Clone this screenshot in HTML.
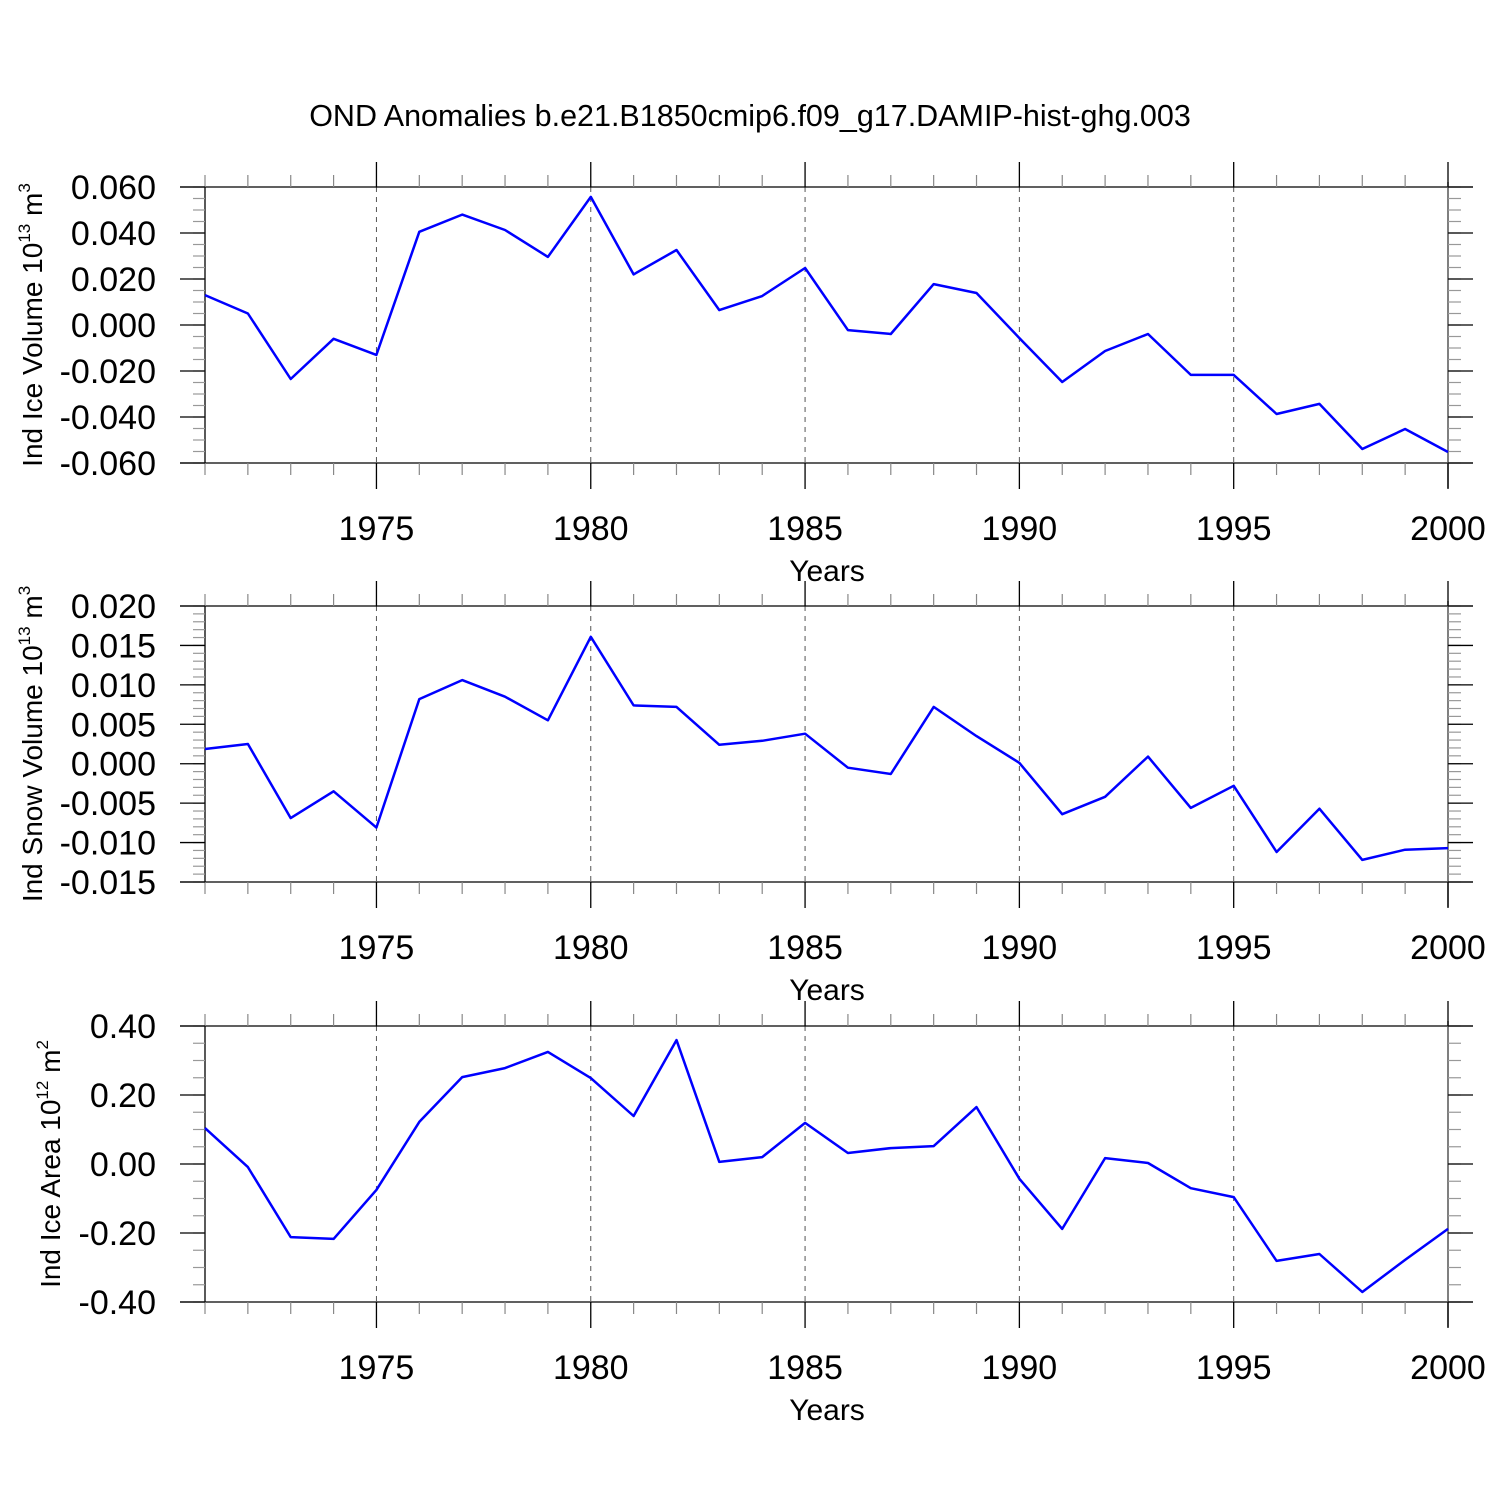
<!DOCTYPE html>
<html><head><meta charset="utf-8"><style>
html,body{margin:0;padding:0;background:#fff}
svg{display:block;font-family:"Liberation Sans",Arial,sans-serif}
</style></head><body>
<svg id="chart" width="1500" height="1500" viewBox="0 0 1500 1500" xmlns="http://www.w3.org/2000/svg">
<rect width="1500" height="1500" fill="#fff"/>
<text x="750" y="126" text-anchor="middle" font-size="30.5">OND Anomalies b.e21.B1850cmip6.f09_g17.DAMIP-hist-ghg.003</text>
</svg>
<script>
const years = [1971,1972,1973,1974,1975,1976,1977,1978,1979,1980,1981,1982,1983,1984,1985,1986,1987,1988,1989,1990,1991,1992,1993,1994,1995,1996,1997,1998,1999,2000];
const iceVolume = [0.013,0.005,-0.0235,-0.006,-0.013,0.0405,0.048,0.0413,0.0296,0.0557,0.022,0.0326,0.0065,0.0126,0.0248,-0.0022,-0.0039,0.0178,0.0139,-0.0057,-0.0248,-0.0113,-0.0039,-0.0217,-0.0217,-0.0387,-0.0343,-0.0539,-0.0452,-0.0552];
const snowVolume = [0.00186,0.0025,-0.0069,-0.0035,-0.0081,0.0082,0.0106,0.0085,0.0055,0.0161,0.0074,0.0072,0.0024,0.0029,0.0038,-0.0005,-0.0013,0.0072,0.0035,0.0001,-0.0064,-0.0042,0.0009,-0.0056,-0.0028,-0.0112,-0.0057,-0.0122,-0.0109,-0.0107];
const iceArea = [0.104,-0.009,-0.212,-0.217,-0.075,0.122,0.252,0.278,0.325,0.249,0.139,0.359,0.006,0.020,0.119,0.032,0.046,0.052,0.165,-0.043,-0.188,0.017,0.003,-0.070,-0.096,-0.281,-0.261,-0.371,-0.278,-0.188];
const xTickLabels = ["1975","1980","1985","1990","1995","2000"];
const iceVolTicks = ["0.060","0.040","0.020","0.000","-0.020","-0.040","-0.060"];
const snowVolTicks = ["0.020","0.015","0.010","0.005","0.000","-0.005","-0.010","-0.015"];
const iceAreaTicks = ["0.40","0.20","0.00","-0.20","-0.40"];

const NS='http://www.w3.org/2000/svg';
const svg=document.getElementById('chart');
function mk(tag,attrs,parent){const e=document.createElementNS(NS,tag);for(const k in attrs)e.setAttribute(k,attrs[k]);(parent||svg).appendChild(e);return e;}
const X0=205,X1=1448,XL=180,XR=1473;
function xs(v){return X0+(v-1971)/(2000-1971)*(X1-X0);}

function panel(key,top,ymin,ymax,ticks,minorStep,series,titleMain,titleExp,titleUnit,titleExp2,titleX){
  const bot=top+276;
  const ys=v=>top+(ymax-v)/(ymax-ymin)*(bot-top);
  const g=mk('g',{});
  
  
  for(let y=1975;y<=1995;y+=5){const l=mk('line',{x1:xs(y),x2:xs(y),y1:top,y2:bot,stroke:'#555','stroke-width':1,'stroke-dasharray':'5,5'},g);
    }
  mk('line',{x1:XL,x2:XR,y1:top,y2:top,stroke:'#000','stroke-width':1.3},g);
  mk('line',{x1:XL,x2:XR,y1:bot,y2:bot,stroke:'#000','stroke-width':1.3},g);
  mk('line',{x1:X0,x2:X0,y1:top,y2:bot,stroke:'#000','stroke-width':1.3},g);
  mk('line',{x1:X1,x2:X1,y1:top-5,y2:bot+25,stroke:'#555','stroke-width':1.5},g);
  for(let y=1971;y<=2000;y++){const x=xs(y);const major=y%5===0;
    mk('line',{x1:x,x2:x,y1:top-(major?25:12),y2:top,stroke:major?'#000':'#888','stroke-width':major?1.3:1.2},g);
    mk('line',{x1:x,x2:x,y1:bot,y2:bot+(major?26:12),stroke:major?'#000':'#888','stroke-width':major?1.3:1.2},g);}
  xTickLabels.forEach(t=>{const e=mk('text',{x:xs(+t),y:bot+77,'text-anchor':'middle','font-size':34},g);e.textContent=t;
    });
  const xt=mk('text',{x:827,y:bot+118,'text-anchor':'middle','font-size':30},g);xt.textContent='Years';
  
  const n=Math.round((ymax-ymin)/minorStep);
  for(let i=0;i<=n;i++){const y=ys(ymin+i*minorStep);
    mk('line',{x1:X0-12,x2:X0,y1:y,y2:y,stroke:'#999','stroke-width':1.2},g);
    mk('line',{x1:X1,x2:X1+13,y1:y,y2:y,stroke:'#999','stroke-width':1.2},g);}
  ticks.forEach(t=>{const y=ys(+t);
    mk('line',{x1:XL,x2:X0,y1:y,y2:y,stroke:'#000','stroke-width':1.3},g);
    mk('line',{x1:X1,x2:XR,y1:y,y2:y,stroke:'#000','stroke-width':1.3},g);
    const e=mk('text',{x:156,y:y+12,'text-anchor':'end','font-size':34},g);e.textContent=t;
    });
  const cy=(top+bot)/2;
  const yt=mk('text',{x:titleX,y:cy,'text-anchor':'middle','font-size':28,transform:`rotate(-90 ${titleX} ${cy})`},g);
  
  yt.appendChild(document.createTextNode(titleMain));
  const s1=mk('tspan',{'font-size':17,dy:-12},yt);s1.textContent=titleExp;
  const s2=mk('tspan',{dy:12},yt);s2.textContent=titleUnit;
  const s3=mk('tspan',{'font-size':17,dy:-12},yt);s3.textContent=titleExp2;
  const pts=series.map((v,i)=>xs(years[i]).toFixed(1)+','+ys(v).toFixed(1)).join(' ');
  const pl=mk('polyline',{points:pts,fill:'none',stroke:'#0000ff','stroke-width':2.5,'stroke-linejoin':'round'},g);
  
}
panel('ice-volume',187,-0.06,0.06,iceVolTicks,0.005,iceVolume,'Ind Ice Volume 10','13',' m','3',42);
panel('snow-volume',606,-0.015,0.02,snowVolTicks,0.001,snowVolume,'Ind Snow Volume 10','13',' m','3',42);
panel('ice-area',1026,-0.4,0.4,iceAreaTicks,0.05,iceArea,'Ind Ice Area 10','12',' m','2',60);
</script>
</body></html>
